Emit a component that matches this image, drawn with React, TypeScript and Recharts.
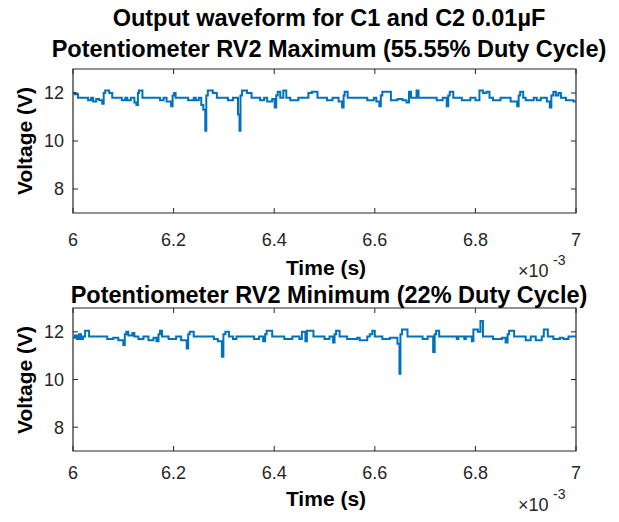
import { LineChart, Line, XAxis, YAxis, ReferenceArea } from 'recharts';

const xTicks = [6, 6.2, 6.4, 6.6, 6.8, 7];
const yTicks = [8, 10, 12];

// RV2 maximum (55.55% duty) — time in ms (axis shows x10^-3 s)
const maxTime = [
  6.0, 6.004, 6.01, 6.03, 6.036, 6.04, 6.046, 6.052, 6.058, 6.061, 6.064, 6.072, 6.078,
  6.097, 6.104, 6.108, 6.115, 6.122, 6.126, 6.129, 6.131, 6.138,
  6.173, 6.18, 6.186, 6.195, 6.198, 6.201, 6.204,
  6.229, 6.24, 6.244, 6.25, 6.255, 6.259, 6.263, 6.265, 6.268, 6.278, 6.286,
  6.308, 6.318, 6.328, 6.331, 6.333, 6.336, 6.346, 6.355,
  6.372, 6.38, 6.386, 6.396, 6.401, 6.404, 6.407, 6.412, 6.418, 6.424,
  6.432, 6.448, 6.468, 6.475, 6.486, 6.505, 6.516,
  6.528, 6.535, 6.538, 6.54, 6.546,
  6.585, 6.598, 6.603, 6.609, 6.612, 6.615, 6.632, 6.645, 6.655, 6.663, 6.668, 6.672, 6.683, 6.687,
  6.723, 6.735, 6.743, 6.746, 6.749, 6.756,
  6.773, 6.79, 6.8, 6.808, 6.815, 6.822, 6.828, 6.835, 6.85,
  6.87, 6.883, 6.886, 6.889, 6.895, 6.9, 6.916, 6.922, 6.93,
  6.942, 6.948, 6.951, 6.955, 6.96, 6.965, 6.97, 6.98, 6.995, 7.0,
];
const maxVolt = [
  12.0, 11.95, 11.8, 11.7, 11.8, 11.65, 11.75, 11.7, 11.55, 12.0, 12.1, 12.0, 11.8,
  11.7, 11.8, 11.7, 11.8, 11.6, 11.5, 12.0, 12.1, 11.8,
  11.7, 11.8, 11.65, 11.45, 11.9, 12.0, 11.8,
  11.7, 11.8, 11.7, 11.8, 11.5, 11.3, 10.43, 11.9, 12.1, 12.0, 11.8,
  11.7, 11.8, 11.1, 10.43, 11.9, 12.1, 12.0, 11.8,
  11.7, 11.8, 11.65, 11.75, 11.4, 11.9, 12.05, 11.8, 12.1, 11.8,
  11.7, 11.8, 12.0, 12.05, 11.8, 11.7, 11.8,
  11.65, 11.4, 11.9, 12.05, 11.8,
  11.7, 11.8, 11.65, 11.45, 11.9, 12.05, 11.7, 11.75, 11.7, 11.6, 12.05, 11.8, 12.1, 11.8,
  11.7, 11.8, 11.45, 11.9, 12.05, 11.8,
  11.7, 11.8, 11.7, 12.1, 12.0, 12.05, 11.8, 11.7, 11.8,
  11.65, 11.45, 11.9, 12.05, 11.8, 11.7, 11.8, 11.7, 11.8,
  11.65, 11.4, 11.9, 12.05, 11.9, 12.0, 11.8, 11.7, 11.65, 11.7,
];

// RV2 minimum (22% duty)
const minTime = [
  6.0, 6.004, 6.008, 6.012, 6.016, 6.02, 6.024, 6.032,
  6.068, 6.08, 6.09, 6.1, 6.103, 6.106, 6.11, 6.118, 6.122,
  6.13, 6.14, 6.15, 6.16, 6.166, 6.17, 6.173, 6.177,
  6.19, 6.205, 6.215, 6.226, 6.229, 6.232, 6.24,
  6.28, 6.288, 6.296, 6.299, 6.303, 6.31, 6.318, 6.325,
  6.36, 6.37, 6.378, 6.382, 6.385, 6.396,
  6.42, 6.436, 6.45, 6.455, 6.462, 6.465, 6.478,
  6.5, 6.51, 6.517, 6.52, 6.523, 6.53,
  6.545, 6.565, 6.57, 6.585, 6.59, 6.595, 6.6,
  6.615, 6.63, 6.645, 6.649, 6.651, 6.654, 6.665,
  6.695, 6.705, 6.716, 6.719, 6.722, 6.728,
  6.763, 6.766, 6.778, 6.781, 6.793, 6.796, 6.805, 6.81, 6.815,
  6.835, 6.853, 6.86, 6.864, 6.867, 6.877,
  6.9, 6.91, 6.92, 6.932, 6.936, 6.944, 6.955, 6.968, 6.975, 6.985, 7.0,
];
const minVolt = [
  11.75, 11.85, 11.7, 11.9, 11.7, 11.8, 12.05, 11.8,
  11.7, 11.75, 11.65, 11.45, 11.9, 12.0, 11.85, 11.95, 11.8,
  11.7, 11.8, 11.65, 11.75, 11.6, 11.9, 12.05, 11.8,
  11.7, 11.8, 11.65, 11.3, 11.9, 12.0, 11.8,
  11.7, 11.6, 10.95, 11.9, 12.0, 11.8, 11.7, 11.8,
  11.7, 11.8, 11.6, 11.9, 12.05, 11.8,
  11.7, 11.8, 11.7, 12.0, 11.6, 12.05, 11.8,
  11.7, 11.8, 11.55, 11.9, 12.05, 11.8,
  11.7, 11.75, 11.65, 11.8, 11.9, 12.05, 11.8,
  11.7, 11.75, 11.5, 10.24, 11.9, 12.1, 11.8,
  11.7, 11.8, 11.15, 11.9, 12.05, 11.8,
  11.7, 11.8, 11.7, 11.8, 11.6, 12.1, 12.0, 12.45, 11.8,
  11.7, 11.75, 11.55, 11.9, 12.05, 11.8,
  11.65, 11.8, 11.65, 11.8, 12.1, 11.8, 11.7, 11.75, 11.7, 11.8, 11.8,
];

const toRows = (t: number[], v: number[]) => t.map((time, i) => ({ time, volt: v[i] }));

const FONT = '"Liberation Sans", Arial, Helvetica, sans-serif';
const INK = '#262626';
const BLUE = '#0072BD';
const W = 619;
const LEFT = 73;
const RIGHT = 576;
const TICK = 5;

function Panel({ rows, top, height, marginTop, axisHeight, labelGap }: { rows: { time: number; volt: number }[]; top: number; height: number; marginTop: number; axisHeight: number; labelGap: number }) {
  const plotTop = marginTop;
  const plotBottom = height - axisHeight;

  // MATLAB-style inward ticks on all four sides
  const xTick = (p: any) => (
    <g>
      <line x1={p.x} x2={p.x} y1={plotBottom} y2={plotBottom - TICK} stroke={INK} />
      <line x1={p.x} x2={p.x} y1={plotTop} y2={plotTop + TICK} stroke={INK} />
      <text x={p.x} y={plotBottom + labelGap} dy="0.71em" textAnchor="middle" fontSize={18} fontFamily={FONT} fill={INK}>
        {p.payload.value}
      </text>
    </g>
  );
  const yTick = (p: any) => (
    <g>
      <line x1={LEFT} x2={LEFT + TICK} y1={p.y} y2={p.y} stroke={INK} />
      <line x1={RIGHT} x2={RIGHT - TICK} y1={p.y} y2={p.y} stroke={INK} />
      <text x={LEFT - 9} y={p.y} dy="0.355em" textAnchor="end" fontSize={18} fontFamily={FONT} fill={INK}>
        {p.payload.value}
      </text>
    </g>
  );

  return (
    <div style={{ position: 'absolute', left: 0, top, width: W, height }}>
      <LineChart width={W} height={height} data={rows} margin={{ top: marginTop, right: W - RIGHT, bottom: 0, left: 0 }}>
        <XAxis dataKey="time" type="number" domain={[6, 7]} ticks={xTicks} interval={0}
          height={axisHeight} tickLine={false} axisLine={false} tick={xTick} allowDataOverflow />
        <YAxis type="number" domain={[7, 13]} ticks={yTicks} interval={0}
          width={LEFT} tickLine={false} axisLine={false} tick={yTick} allowDataOverflow />
        <ReferenceArea x1={6} x2={7} y1={7} y2={13} fill="none" stroke={INK} strokeWidth={1.2} fillOpacity={0} />
        <Line type="stepAfter" dataKey="volt" stroke={BLUE} strokeWidth={2}
          dot={false} isAnimationActive={false} />
      </LineChart>
    </div>
  );
}

export default function App() {
  const bold = { fontFamily: FONT, fontWeight: 700, fill: '#000' } as const;
  const cx = 329;
  return (
    <div style={{ position: 'absolute', left: 0, top: 0, width: W, height: 522, background: '#fff' }}>
      <Panel rows={toRows(maxTime, maxVolt)} top={0} height={290} marginTop={69} axisHeight={77} labelGap={20} />
      <Panel rows={toRows(minTime, minVolt)} top={240} height={282} marginTop={68} axisHeight={71} labelGap={15} />
      <svg width={W} height={522} style={{ position: 'absolute', left: 0, top: 0, pointerEvents: 'none' }}>
        <text x={cx} y={26} textAnchor="middle" fontSize={23.5} {...bold}>Output waveform for C1 and C2 0.01µF</text>
        <text x={cx} y={57} textAnchor="middle" fontSize={23.5} {...bold}>Potentiometer RV2 Maximum (55.55% Duty Cycle)</text>
        <text x={326} y={275} textAnchor="middle" fontSize={21} {...bold}>Time (s)</text>
        <text x={cx} y={303} textAnchor="middle" fontSize={23.5} {...bold}>Potentiometer RV2 Minimum (22% Duty Cycle)</text>
        <text x={326} y={506} textAnchor="middle" fontSize={21} {...bold}>Time (s)</text>
        <text transform="translate(32,141) rotate(-90)" textAnchor="middle" fontSize={21} {...bold}>Voltage (V)</text>
        <text transform="translate(32,380) rotate(-90)" textAnchor="middle" fontSize={21} {...bold}>Voltage (V)</text>
        <text x={518} y={277} fontSize={18} fontFamily={FONT} fill={INK}>×10</text>
        <text x={553} y={265} fontSize={14} fontFamily={FONT} fill={INK}>-3</text>
        <text x={518} y={511} fontSize={18} fontFamily={FONT} fill={INK}>×10</text>
        <text x={553} y={499} fontSize={14} fontFamily={FONT} fill={INK}>-3</text>
      </svg>
    </div>
  );
}
